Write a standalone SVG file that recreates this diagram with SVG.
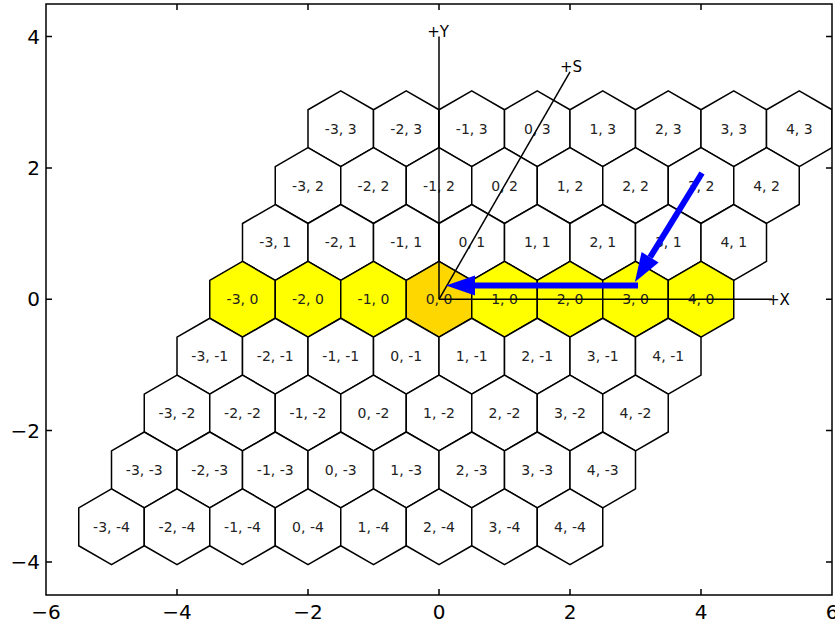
<svg xmlns="http://www.w3.org/2000/svg" width="835" height="623" viewBox="0 0 835 623">
<style>
.hex{stroke:#000;stroke-width:1.5;stroke-linejoin:round}
.w{fill:#fff}
.y{fill:#ffff00}
.g{fill:#ffd700}
.lbl{font-family:"DejaVu Sans",sans-serif;font-size:14px;fill:#222;text-anchor:middle}
.ax{stroke:#000;stroke-width:1.5;fill:none}
.axl{font-family:"DejaVu Sans",sans-serif;font-size:15px;fill:#000}
.tk{font-family:"DejaVu Sans",sans-serif;font-size:20px;fill:#000}
.blue{stroke:#0000ff;stroke-width:6;fill:none}
</style>
<defs>
<clipPath id="plot"><rect x="46" y="4" width="786" height="591"/></clipPath>
<polygon id="hp" points="0,-37.9 32.75,-18.95 32.75,18.95 0,37.9 -32.75,18.95 -32.75,-18.95"/>
<marker id="ah" markerUnits="userSpaceOnUse" markerWidth="30" markerHeight="22" refX="0" refY="0" viewBox="0 -11 30 22" orient="auto" overflow="visible">
<path d="M0,-10 L29,0 L0,10 Z" fill="#0000ff"/>
</marker>
</defs>
<rect width="835" height="623" fill="#fff"/>
<g clip-path="url(#plot)">
<g id="hexes">
<g id="h_m3_3" transform="translate(340.75,128.69)"><use href="#hp" class="hex w"/><text class="lbl" y="5">-3, 3</text></g>
<g id="h_m2_3" transform="translate(406.25,128.69)"><use href="#hp" class="hex w"/><text class="lbl" y="5">-2, 3</text></g>
<g id="h_m1_3" transform="translate(471.75,128.69)"><use href="#hp" class="hex w"/><text class="lbl" y="5">-1, 3</text></g>
<g id="h_0_3" transform="translate(537.25,128.69)"><use href="#hp" class="hex w"/><text class="lbl" y="5">0, 3</text></g>
<g id="h_1_3" transform="translate(602.75,128.69)"><use href="#hp" class="hex w"/><text class="lbl" y="5">1, 3</text></g>
<g id="h_2_3" transform="translate(668.25,128.69)"><use href="#hp" class="hex w"/><text class="lbl" y="5">2, 3</text></g>
<g id="h_3_3" transform="translate(733.75,128.69)"><use href="#hp" class="hex w"/><text class="lbl" y="5">3, 3</text></g>
<g id="h_4_3" transform="translate(799.25,128.69)"><use href="#hp" class="hex w"/><text class="lbl" y="5">4, 3</text></g>

<g id="h_m3_2" transform="translate(308,185.56)"><use href="#hp" class="hex w"/><text class="lbl" y="5">-3, 2</text></g>
<g id="h_m2_2" transform="translate(373.5,185.56)"><use href="#hp" class="hex w"/><text class="lbl" y="5">-2, 2</text></g>
<g id="h_m1_2" transform="translate(439,185.56)"><use href="#hp" class="hex w"/><text class="lbl" y="5">-1, 2</text></g>
<g id="h_0_2" transform="translate(504.5,185.56)"><use href="#hp" class="hex w"/><text class="lbl" y="5">0, 2</text></g>
<g id="h_1_2" transform="translate(570,185.56)"><use href="#hp" class="hex w"/><text class="lbl" y="5">1, 2</text></g>
<g id="h_2_2" transform="translate(635.5,185.56)"><use href="#hp" class="hex w"/><text class="lbl" y="5">2, 2</text></g>
<g id="h_3_2" transform="translate(701,185.56)"><use href="#hp" class="hex w"/><text class="lbl" y="5">3, 2</text></g>
<g id="h_4_2" transform="translate(766.5,185.56)"><use href="#hp" class="hex w"/><text class="lbl" y="5">4, 2</text></g>

<g id="h_m3_1" transform="translate(275.25,242.43)"><use href="#hp" class="hex w"/><text class="lbl" y="5">-3, 1</text></g>
<g id="h_m2_1" transform="translate(340.75,242.43)"><use href="#hp" class="hex w"/><text class="lbl" y="5">-2, 1</text></g>
<g id="h_m1_1" transform="translate(406.25,242.43)"><use href="#hp" class="hex w"/><text class="lbl" y="5">-1, 1</text></g>
<g id="h_0_1" transform="translate(471.75,242.43)"><use href="#hp" class="hex w"/><text class="lbl" y="5">0, 1</text></g>
<g id="h_1_1" transform="translate(537.25,242.43)"><use href="#hp" class="hex w"/><text class="lbl" y="5">1, 1</text></g>
<g id="h_2_1" transform="translate(602.75,242.43)"><use href="#hp" class="hex w"/><text class="lbl" y="5">2, 1</text></g>
<g id="h_3_1" transform="translate(668.25,242.43)"><use href="#hp" class="hex w"/><text class="lbl" y="5">3, 1</text></g>
<g id="h_4_1" transform="translate(733.75,242.43)"><use href="#hp" class="hex w"/><text class="lbl" y="5">4, 1</text></g>

<g id="h_m3_0" transform="translate(242.5,299.3)"><use href="#hp" class="hex y"/><text class="lbl" y="5">-3, 0</text></g>
<g id="h_m2_0" transform="translate(308,299.3)"><use href="#hp" class="hex y"/><text class="lbl" y="5">-2, 0</text></g>
<g id="h_m1_0" transform="translate(373.5,299.3)"><use href="#hp" class="hex y"/><text class="lbl" y="5">-1, 0</text></g>
<g id="h_0_0" transform="translate(439,299.3)"><use href="#hp" class="hex g"/><text class="lbl" y="5">0, 0</text></g>
<g id="h_1_0" transform="translate(504.5,299.3)"><use href="#hp" class="hex y"/><text class="lbl" y="5">1, 0</text></g>
<g id="h_2_0" transform="translate(570,299.3)"><use href="#hp" class="hex y"/><text class="lbl" y="5">2, 0</text></g>
<g id="h_3_0" transform="translate(635.5,299.3)"><use href="#hp" class="hex y"/><text class="lbl" y="5">3, 0</text></g>
<g id="h_4_0" transform="translate(701,299.3)"><use href="#hp" class="hex y"/><text class="lbl" y="5">4, 0</text></g>

<g id="h_m3_m1" transform="translate(209.75,356.17)"><use href="#hp" class="hex w"/><text class="lbl" y="5">-3, -1</text></g>
<g id="h_m2_m1" transform="translate(275.25,356.17)"><use href="#hp" class="hex w"/><text class="lbl" y="5">-2, -1</text></g>
<g id="h_m1_m1" transform="translate(340.75,356.17)"><use href="#hp" class="hex w"/><text class="lbl" y="5">-1, -1</text></g>
<g id="h_0_m1" transform="translate(406.25,356.17)"><use href="#hp" class="hex w"/><text class="lbl" y="5">0, -1</text></g>
<g id="h_1_m1" transform="translate(471.75,356.17)"><use href="#hp" class="hex w"/><text class="lbl" y="5">1, -1</text></g>
<g id="h_2_m1" transform="translate(537.25,356.17)"><use href="#hp" class="hex w"/><text class="lbl" y="5">2, -1</text></g>
<g id="h_3_m1" transform="translate(602.75,356.17)"><use href="#hp" class="hex w"/><text class="lbl" y="5">3, -1</text></g>
<g id="h_4_m1" transform="translate(668.25,356.17)"><use href="#hp" class="hex w"/><text class="lbl" y="5">4, -1</text></g>

<g id="h_m3_m2" transform="translate(177,413.04)"><use href="#hp" class="hex w"/><text class="lbl" y="5">-3, -2</text></g>
<g id="h_m2_m2" transform="translate(242.5,413.04)"><use href="#hp" class="hex w"/><text class="lbl" y="5">-2, -2</text></g>
<g id="h_m1_m2" transform="translate(308,413.04)"><use href="#hp" class="hex w"/><text class="lbl" y="5">-1, -2</text></g>
<g id="h_0_m2" transform="translate(373.5,413.04)"><use href="#hp" class="hex w"/><text class="lbl" y="5">0, -2</text></g>
<g id="h_1_m2" transform="translate(439,413.04)"><use href="#hp" class="hex w"/><text class="lbl" y="5">1, -2</text></g>
<g id="h_2_m2" transform="translate(504.5,413.04)"><use href="#hp" class="hex w"/><text class="lbl" y="5">2, -2</text></g>
<g id="h_3_m2" transform="translate(570,413.04)"><use href="#hp" class="hex w"/><text class="lbl" y="5">3, -2</text></g>
<g id="h_4_m2" transform="translate(635.5,413.04)"><use href="#hp" class="hex w"/><text class="lbl" y="5">4, -2</text></g>

<g id="h_m3_m3" transform="translate(144.25,469.91)"><use href="#hp" class="hex w"/><text class="lbl" y="5">-3, -3</text></g>
<g id="h_m2_m3" transform="translate(209.75,469.91)"><use href="#hp" class="hex w"/><text class="lbl" y="5">-2, -3</text></g>
<g id="h_m1_m3" transform="translate(275.25,469.91)"><use href="#hp" class="hex w"/><text class="lbl" y="5">-1, -3</text></g>
<g id="h_0_m3" transform="translate(340.75,469.91)"><use href="#hp" class="hex w"/><text class="lbl" y="5">0, -3</text></g>
<g id="h_1_m3" transform="translate(406.25,469.91)"><use href="#hp" class="hex w"/><text class="lbl" y="5">1, -3</text></g>
<g id="h_2_m3" transform="translate(471.75,469.91)"><use href="#hp" class="hex w"/><text class="lbl" y="5">2, -3</text></g>
<g id="h_3_m3" transform="translate(537.25,469.91)"><use href="#hp" class="hex w"/><text class="lbl" y="5">3, -3</text></g>
<g id="h_4_m3" transform="translate(602.75,469.91)"><use href="#hp" class="hex w"/><text class="lbl" y="5">4, -3</text></g>

<g id="h_m3_m4" transform="translate(111.5,526.78)"><use href="#hp" class="hex w"/><text class="lbl" y="5">-3, -4</text></g>
<g id="h_m2_m4" transform="translate(177,526.78)"><use href="#hp" class="hex w"/><text class="lbl" y="5">-2, -4</text></g>
<g id="h_m1_m4" transform="translate(242.5,526.78)"><use href="#hp" class="hex w"/><text class="lbl" y="5">-1, -4</text></g>
<g id="h_0_m4" transform="translate(308,526.78)"><use href="#hp" class="hex w"/><text class="lbl" y="5">0, -4</text></g>
<g id="h_1_m4" transform="translate(373.5,526.78)"><use href="#hp" class="hex w"/><text class="lbl" y="5">1, -4</text></g>
<g id="h_2_m4" transform="translate(439,526.78)"><use href="#hp" class="hex w"/><text class="lbl" y="5">2, -4</text></g>
<g id="h_3_m4" transform="translate(504.5,526.78)"><use href="#hp" class="hex w"/><text class="lbl" y="5">3, -4</text></g>
<g id="h_4_m4" transform="translate(570,526.78)"><use href="#hp" class="hex w"/><text class="lbl" y="5">4, -4</text></g>
</g>
<g id="connectors">
<line class="ax" x1="439" y1="299.3" x2="772" y2="299.3"/>
<line class="ax" x1="439" y1="299.3" x2="439" y2="36.6"/>
<line class="ax" x1="439" y1="299.3" x2="570" y2="71.8"/>
<line class="blue" x1="702" y1="173" x2="650.1" y2="257.3" marker-end="url(#ah)"/>
<line class="blue" x1="638" y1="285.5" x2="475" y2="285.5" marker-end="url(#ah)"/>
</g>
</g>
<g id="axis-labels">
<text class="axl" x="767" y="304.5">+X</text>
<text class="axl" x="438" y="36.5" text-anchor="middle">+Y</text>
<text class="axl" x="571" y="71.5" text-anchor="middle">+S</text>
</g>
<g id="frame">
<rect x="46" y="4" width="786" height="591" fill="none" stroke="#000" stroke-width="1.5"/>
<path class="ax" d="M46,36.6h6M46,168h6M46,299.3h6M46,430.6h6M46,562h6M832,36.6h-6M832,168h-6M832,299.3h-6M832,430.6h-6M832,562h-6M177,595v-6M308,595v-6M439,595v-6M570,595v-6M701,595v-6M177,4v6M308,4v6M439,4v6M570,4v6M701,4v6" stroke-width="1"/>
</g>
<g id="ticklabels">
<text class="tk" x="40" y="43.6" text-anchor="end">4</text>
<text class="tk" x="40" y="175" text-anchor="end">2</text>
<text class="tk" x="40" y="306.3" text-anchor="end">0</text>
<text class="tk" x="40" y="437.6" text-anchor="end">−2</text>
<text class="tk" x="40" y="569" text-anchor="end">−4</text>
<text class="tk" x="46" y="618.5" text-anchor="middle">−6</text>
<text class="tk" x="177" y="618.5" text-anchor="middle">−4</text>
<text class="tk" x="308" y="618.5" text-anchor="middle">−2</text>
<text class="tk" x="439" y="618.5" text-anchor="middle">0</text>
<text class="tk" x="570" y="618.5" text-anchor="middle">2</text>
<text class="tk" x="701" y="618.5" text-anchor="middle">4</text>
<text class="tk" x="832" y="618.5" text-anchor="middle">6</text>
</g>
</svg>
